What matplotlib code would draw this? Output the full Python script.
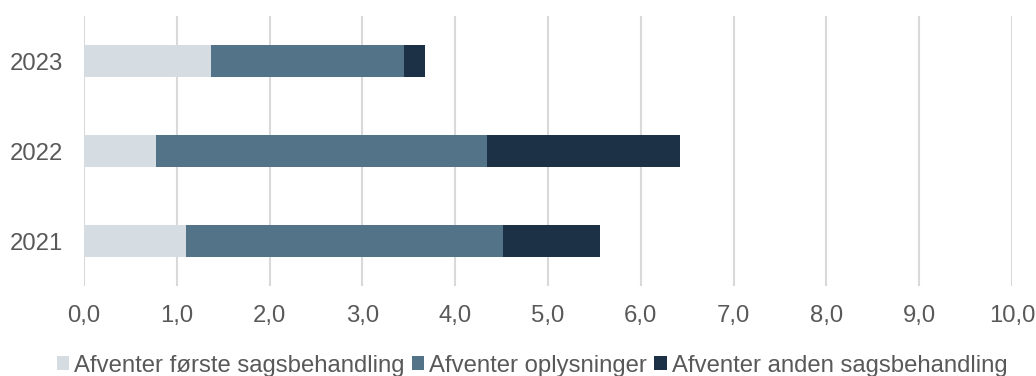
import matplotlib
matplotlib.use('Agg')
from matplotlib import pyplot as plt
import numpy as np

years = ['2021', '2022', '2023']
forste = [1.10, 0.78, 1.37]
oplysninger = [3.42, 3.56, 2.08]
anden = [1.04, 2.08, 0.22]
labels = ['Afventer første sagsbehandling', 'Afventer oplysninger', 'Afventer anden sagsbehandling']
colors = ['#D5DCE2', '#537389', '#1C3145']
xticks = np.arange(0, 11, 1)

plt.rcParams['font.family'] = ['Liberation Sans', 'DejaVu Sans']
text_color = '#595959'
fs = 17.2

fig = plt.figure(figsize=(10.36, 3.76), dpi=100)
ax = fig.add_axes([84/1036, 1-286/376, (1012-84)/1036, 270/376])

y = np.arange(len(years))
left = np.zeros(len(years))
for vals, lab, col in zip([forste, oplysninger, anden], labels, colors):
    ax.barh(y, vals, left=left, height=0.35, color=col, label=lab, zorder=3)
    left = left + np.array(vals)

ax.set_xlim(0, 10)
ax.set_ylim(-0.5, 2.5)
ax.set_yticks(y)
ax.set_yticklabels(years)
ax.set_xticks(xticks)
ax.set_xticklabels([f'{v:.1f}'.replace('.', ',') for v in xticks])
ax.tick_params(axis='both', length=0, labelsize=fs, labelcolor=text_color)
ax.tick_params(axis='x', pad=14)
ax.tick_params(axis='y', pad=15)
ax.grid(axis='x', color='#D9D9D9', linewidth=1.5, zorder=0)
for s in ax.spines.values():
    s.set_visible(False)

fig.legend(loc='center', bbox_to_anchor=(532/1036, 0.027), ncol=3, frameon=False,
           fontsize=fs, labelcolor=text_color, handlelength=0.53, handleheight=0.53,
           handletextpad=0.2, columnspacing=0.3, borderpad=0)

plt.savefig('out.png', dpi=100)
